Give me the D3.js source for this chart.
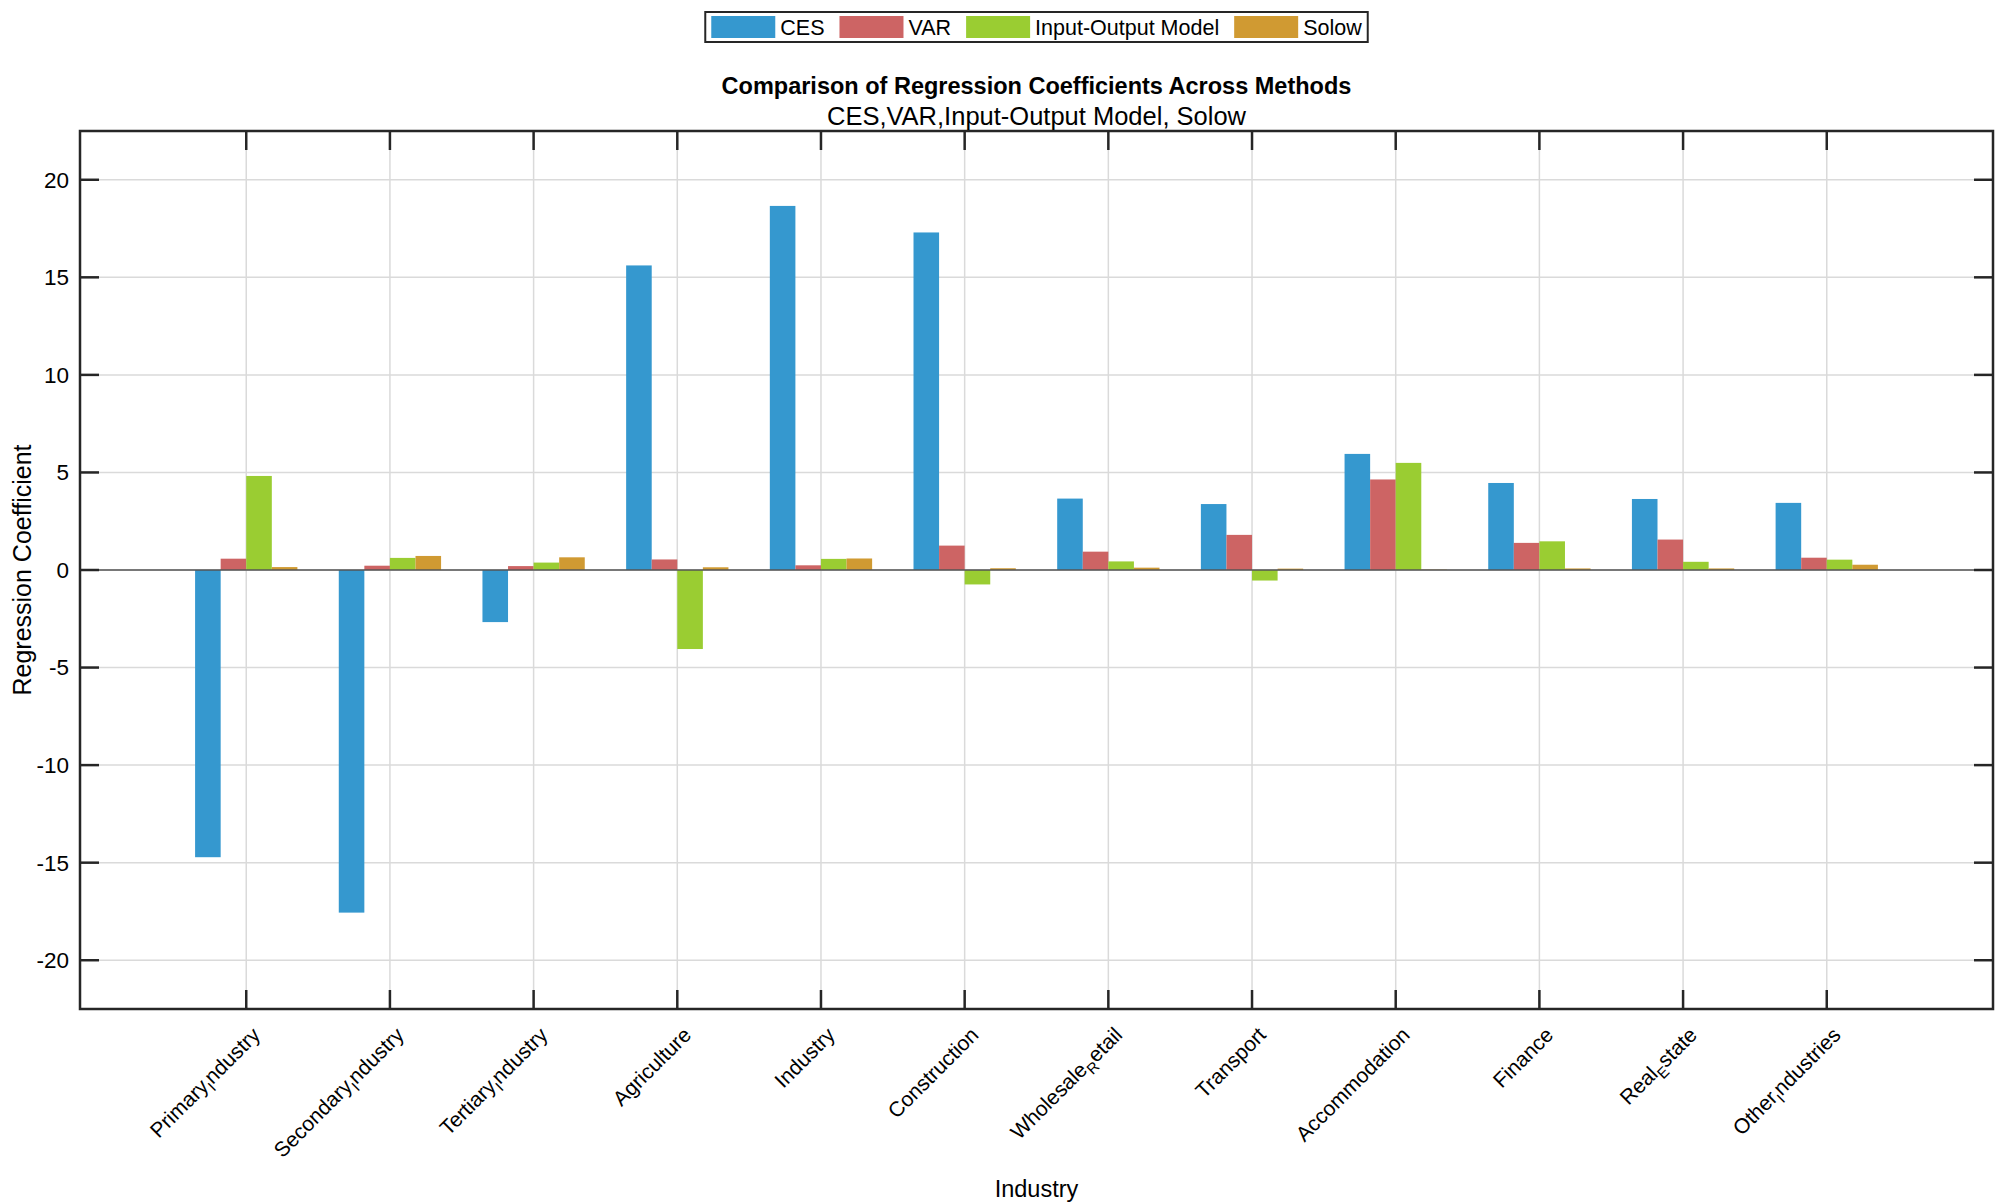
<!DOCTYPE html>
<html>
<head>
<meta charset="utf-8">
<script src="https://cdn.jsdelivr.net/npm/d3@7"></script>
<style>
  html, body { margin: 0; padding: 0; background: #fff; }
  svg { display: block; font-family: "Liberation Sans", Arial, Helvetica, sans-serif; }
</style>
</head>
<body>
<div id="chart"></div>
<script>
// 데이터
const industries = [
  'Primary_Industry', 'Secondary_Industry', 'Tertiary_Industry', 'Agriculture',
  'Industry', 'Construction', 'Wholesale_Retail', 'Transport',
  'Accommodation', 'Finance', 'Real_Estate', 'Other_Industries'
];
const methods = ['CES', 'VAR', 'Input-Output Model', 'Solow'];

const cesValues   = [-14.72, -17.56, -2.67, 15.61, 18.66, 17.30, 3.66, 3.38, 5.95, 4.46, 3.64, 3.44];
const varValues   = [0.58, 0.22, 0.20, 0.54, 0.24, 1.25, 0.94, 1.80, 4.64, 1.39, 1.56, 0.63];
const ioValues    = [4.82, 0.62, 0.38, -4.05, 0.57, -0.74, 0.44, -0.54, 5.49, 1.47, 0.42, 0.53];
const solowValues = [0.15, 0.72, 0.65, 0.14, 0.59, 0.09, 0.12, 0.07, 0.02, 0.08, 0.08, 0.27];

const yTicks = [-20, -15, -10, -5, 0, 5, 10, 15, 20];

const colors = ['#3598cf', '#cd6464', '#9acd32', '#d09a32'];

const WIDTH = 2000, HEIGHT = 1204;
const M = { left: 80, right: 7, top: 131, bottom: 195 };
const X_PAD = 1.157;      // 축 끝 여백 (카테고리 단위)
const BAR_W = 0.178;      // 막대 폭 (카테고리 단위)
const TICK_LEN = 19;

const series = [cesValues, varValues, ioValues, solowValues];

const svg = d3.select('#chart').append('svg')
  .attr('width', WIDTH).attr('height', HEIGHT);

const x = d3.scaleLinear()
  .domain([1 - X_PAD, industries.length + X_PAD])
  .range([M.left, WIDTH - M.right]);
const y = d3.scaleLinear()
  .domain([-22.5, 22.5])
  .range([HEIGHT - M.bottom, M.top]);

const x0 = M.left, x1 = WIDTH - M.right, y0 = M.top, y1 = HEIGHT - M.bottom;
const idx = industries.map((d, i) => i + 1);

// 그리드
const grid = svg.append('g').attr('stroke', '#dadada').attr('stroke-width', 1.5);
grid.selectAll('.gy').data(yTicks).join('line')
  .attr('x1', x0).attr('x2', x1)
  .attr('y1', d => y(d)).attr('y2', d => y(d));
grid.selectAll('.gx').data(idx).join('line')
  .attr('y1', y0).attr('y2', y1)
  .attr('x1', d => x(d)).attr('x2', d => x(d));

// 막대
const bars = svg.append('g');
series.forEach((vals, j) => {
  bars.selectAll('.b' + j).data(vals).join('rect')
    .attr('x', (d, i) => x(i + 1 + (j - 2) * BAR_W))
    .attr('width', x(BAR_W) - x(0))
    .attr('y', d => y(Math.max(0, d)))
    .attr('height', d => Math.abs(y(d) - y(0)))
    .attr('fill', colors[j]);
});

// 기준선 (0)
svg.append('line')
  .attr('x1', x0).attr('x2', x1)
  .attr('y1', y(0)).attr('y2', y(0))
  .attr('stroke', '#555').attr('stroke-width', 1.5);

// 축 박스와 안쪽 눈금
const axisG = svg.append('g').attr('stroke', '#262626').attr('stroke-width', 2.5);
axisG.append('rect')
  .attr('x', x0).attr('y', y0).attr('width', x1 - x0).attr('height', y1 - y0)
  .attr('fill', 'none');
yTicks.forEach(t => {
  axisG.append('line').attr('x1', x0).attr('x2', x0 + TICK_LEN).attr('y1', y(t)).attr('y2', y(t));
  axisG.append('line').attr('x1', x1).attr('x2', x1 - TICK_LEN).attr('y1', y(t)).attr('y2', y(t));
});
idx.forEach(t => {
  axisG.append('line').attr('y1', y1).attr('y2', y1 - TICK_LEN).attr('x1', x(t)).attr('x2', x(t));
  axisG.append('line').attr('y1', y0).attr('y2', y0 + TICK_LEN).attr('x1', x(t)).attr('x2', x(t));
});

// Y 눈금 라벨
svg.append('g').selectAll('text').data(yTicks).join('text')
  .attr('x', x0 - 11).attr('y', d => y(d))
  .attr('dy', '0.35em')
  .attr('text-anchor', 'end')
  .attr('font-size', 22.5)
  .attr('fill', '#000')
  .text(d => d);

// X 눈금 라벨 (TeX 스타일: '_' 뒤 첫 글자는 아래첨자)
const xl = svg.append('g').selectAll('g').data(industries).join('g')
  .attr('transform', (d, i) => `translate(${x(i + 1) + 10}, ${y1 + 22}) rotate(-45)`);
xl.each(function(name) {
  const t = d3.select(this).append('text')
    .attr('text-anchor', 'end')
    .attr('dy', '0.35em')
    .attr('font-size', 21)
    .attr('fill', '#000');
  const k = name.indexOf('_');
  if (k < 0) { t.text(name); return; }
  t.append('tspan').text(name.slice(0, k));
  t.append('tspan').attr('font-size', 15).attr('dy', 6).text(name.charAt(k + 1));
  t.append('tspan').attr('dy', -6).text(name.slice(k + 2));
});

// 축 제목
svg.append('text')
  .attr('x', (x0 + x1) / 2).attr('y', 1197)
  .attr('text-anchor', 'middle').attr('font-size', 23.5)
  .text('Industry');
svg.append('text')
  .attr('transform', `translate(31, ${(y0 + y1) / 2}) rotate(-90)`)
  .attr('text-anchor', 'middle').attr('font-size', 25)
  .text('Regression Coefficient');

// 제목
svg.append('text')
  .attr('x', (x0 + x1) / 2).attr('y', 94)
  .attr('text-anchor', 'middle').attr('font-size', 23.5).attr('font-weight', 'bold')
  .text('Comparison of Regression Coefficients Across Methods');
svg.append('text')
  .attr('x', (x0 + x1) / 2).attr('y', 125)
  .attr('text-anchor', 'middle').attr('font-size', 25.5)
  .text('CES,VAR,Input-Output Model, Solow');

// 범례
const legend = svg.append('g');
const SW_W = 64, SW_H = 22, GAP = 5, ITEM_GAP = 15, LEG_FONT = 21.5;
let cx = 0;
methods.forEach((m, j) => {
  const g = legend.append('g');
  g.append('rect').attr('x', cx).attr('y', -SW_H / 2).attr('width', SW_W).attr('height', SW_H)
    .attr('fill', colors[j]);
  const tx = g.append('text').attr('x', cx + SW_W + GAP).attr('dy', '0.35em')
    .attr('font-size', LEG_FONT).text(m);
  cx += SW_W + GAP + tx.node().getComputedTextLength() + ITEM_GAP;
});
const legW = cx - ITEM_GAP;
const padX = 6;
const legX = (x0 + x1) / 2 - legW / 2;
legend.attr('transform', `translate(${legX}, 27)`);
legend.insert('rect', ':first-child')
  .attr('x', -padX).attr('y', -15).attr('width', legW + 2 * padX).attr('height', 30)
  .attr('fill', '#fff').attr('stroke', '#262626').attr('stroke-width', 2);
</script>
</body>
</html>
